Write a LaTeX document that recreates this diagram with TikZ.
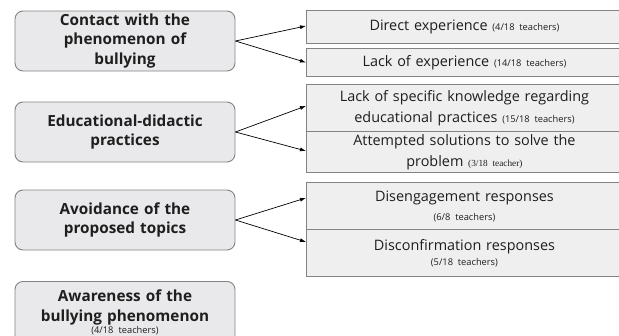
\documentclass[tikz,border=0pt]{standalone}
\usepackage{fontspec}
\setmainfont{Open Sans}
\newfontfamily\serifcount{Liberation Serif}
\usetikzlibrary{arrows.meta}
\definecolor{catfill}{HTML}{E9E9EB}
\definecolor{subfill}{HTML}{EFEFEF}
\definecolor{boxline}{HTML}{838383}
\definecolor{txt}{HTML}{1E1E1E}
\tikzset{
	category/.style={draw=boxline, fill=catfill, rounded corners=8pt, line width=0.9pt,
		minimum width=220pt, minimum height=60pt, text width=214pt, align=center,
		inner sep=0pt, text=txt, font=\bfseries\fontsize{15.3}{19.5}\selectfont},
	subtheme/.style={draw=boxline, fill=subfill, line width=0.9pt, anchor=north west,
		minimum width=316pt, text width=300pt, align=center, inner sep=0pt,
		text=txt, font=\fontsize{14.4}{21}\selectfont},
	link/.style={-{Latex[length=6pt,width=4pt]}, line width=0.7pt}
}
\newcommand{\tcount}[1]{{\fontsize{9.3}{10}\selectfont #1}}

\begin{document}
\begin{tikzpicture}[x=1pt,y=-1pt]
	\path[use as bounding box, clip] (0,0) rectangle (619,335);
	% categories
	\node[category] (contact) at (125,41) {Contact with the\\phenomenon of\\bullying};
	\node[category] (practices) at (125,132) {Educational-didactic\\practices};
	\node[category] (avoid) at (125,220) {Avoidance of the\\proposed topics};
	\node[category, anchor=north, minimum height=62pt] (aware) at (125,281)
		{Awareness of the\\bullying phenomenon\\[-7pt]{\mdseries\tcount{(4/18 teachers)}}};
	% subthemes
	\node[subtheme, minimum height=33pt] (direct) at (306,10) {Direct experience \tcount{(4/18 teachers)}};
	\node[subtheme, minimum height=28pt] (noexp) at (306,48) {Lack of experience \tcount{(14/18 teachers)}};
	\node[subtheme, minimum height=47pt] (knowledge) at (306,84)
		{Lack of specific knowledge regarding\\educational practices \tcount{(15/18 teachers)}};
	\node[subtheme, minimum height=41pt] (solutions) at (306,131)
		{Attempted solutions to solve the\\problem {\serifcount\tcount{(3/18 teacher)}}};
	\node[subtheme, minimum height=47pt] (disengage) at (306,182)
		{Disengagement responses\\[-2pt]\tcount{(6/8 teachers)}};
	\node[subtheme, minimum height=47pt] (disconfirm) at (306,229)
		{Disconfirmation responses\\[-6pt]\tcount{(5/18 teachers)}};
	% links
	\draw[link] (contact.east) -- ([yshift=1pt]direct.west);
	\draw[link] (contact.east) -- (noexp.west);
	\draw[link] (practices.east) -- ([yshift=2pt]knowledge.west);
	\draw[link] (practices.east) -- ([yshift=1pt]solutions.west);
	\draw[link] (avoid.east) -- ([yshift=8pt]disengage.west);
	\draw[link] (avoid.east) -- ([yshift=11pt]disconfirm.west);
\end{tikzpicture}
\end{document}
